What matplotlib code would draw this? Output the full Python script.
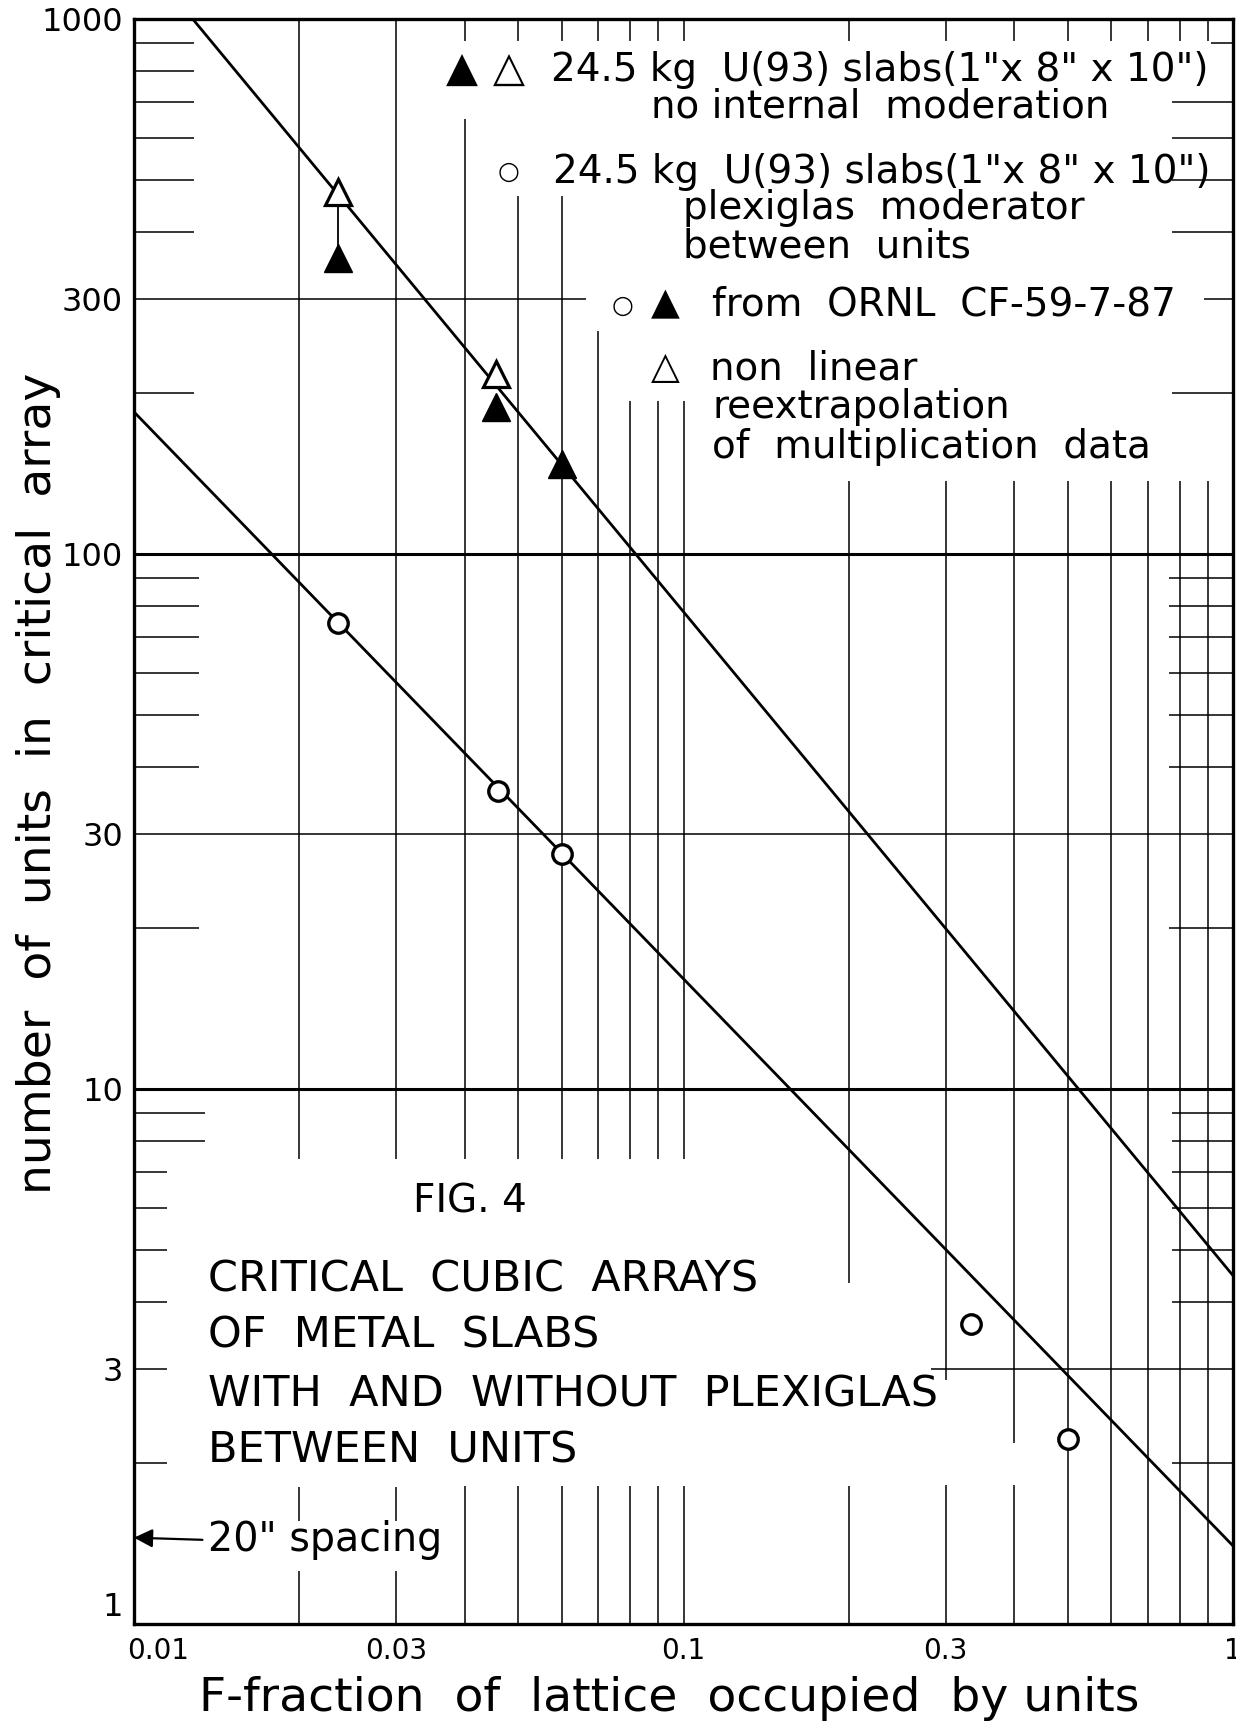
import matplotlib.pyplot as plt
import matplotlib.transforms as mtransforms

# ORNL points, plexiglas moderator between units (open circles)
plexi_F = [0.0235, 0.046, 0.060, 0.333, 0.50]
plexi_N = [74.3, 36.1, 27.5, 3.64, 2.22]

# ORNL points, no internal moderation (filled triangles)
bare_F = [0.0235, 0.0455, 0.060]
bare_N = [357, 188, 147.5]

# non linear reextrapolation of multiplication data (open triangles)
reex_F = [0.0235, 0.0455]
reex_N = [475, 217]

# the two drawn lines, end points
bare_line_F = [0.01279, 1.0]
bare_line_N = [1000, 4.48]
plexi_line_F = [0.01, 1.0]
plexi_line_N = [184.3, 1.40]

xticks = [0.01, 0.03, 0.1, 0.3, 1]
xtick_labels = ["0.01", "0.03", "0.1", "0.3", "1"]
yticks = [1, 3, 10, 30, 100, 300, 1000]
ytick_labels = ["1", "3", "10", "30", "100", "300", "1000"]

W, H = 1236, 1735
fig = plt.figure(figsize=(W / 100, H / 100), dpi=100)
L, R, T, B = 134, 1233, 19, 1624
ax = fig.add_axes([L / W, 1 - B / H, (R - L) / W, (B - T) / H])
ax.set_xscale("log")
ax.set_yscale("log")
ax.set_xlim(0.01, 1)
ax.set_ylim(1, 1000)

# --- hand drawn graph paper: grid lines with gaps where the lettering sits
thin = 1.1
top_tick = (909, 1000)
vgrid = {
    0.02: [(7.41, 1000), (1.56, 1.80), (1, 1.257)],
    0.03: [(7.41, 1000), (1.56, 1.80), (1, 1.257)],
    0.04: [top_tick, (7.41, 650), (1, 1.81)],
    0.05: [top_tick, (7.41, 467), (1, 1.81)],
    0.06: [top_tick, (7.41, 467), (1, 1.81)],
    0.07: [top_tick, (7.41, 261), (1, 1.81)],
    0.08: [top_tick, (7.41, 193), (1, 1.81)],
    0.09: [top_tick, (7.41, 193), (1, 1.81)],
    0.1: [top_tick, (7.41, 193), (1, 1.81)],
    0.2: [top_tick, (4.33, 137), (1, 1.81)],
    0.3: [top_tick, (2.86, 137), (1, 1.82)],
    0.4: [top_tick, (2.18, 137), (1, 1.82)],
}
for x in [0.5, 0.6, 0.7, 0.8, 0.9]:
    vgrid[x] = [top_tick, (1, 137)]
for x, spans in vgrid.items():
    for y0, y1 in spans:
        ax.vlines(x, y0, y1, color="black", lw=thin, zorder=1)

ax.axhline(100, color="black", lw=2.2, zorder=1)
ax.axhline(10, color="black", lw=2.2, zorder=1)
ax.axhline(30, color="black", lw=thin, zorder=1)
ax.hlines(300, 0.01, 0.0665, color="black", lw=thin, zorder=1)
ax.hlines(300, 0.886, 1, color="black", lw=thin, zorder=1)
ax.hlines(3, 0.2825, 1, color="black", lw=thin, zorder=1)

# short scale marks along both edges
left_marks = {0.01284: [900, 800, 700, 600, 500, 400, 200],
              0.01314: [90, 80, 70, 60, 50, 40, 20],
              0.01345: [9, 8],
              0.0115: [7, 6, 5, 4, 3, 2]}
for x1, ys in left_marks.items():
    ax.hlines(ys, 0.01, x1, color="black", lw=thin, zorder=1)
right_marks = {0.912: [900],
               0.775: [700, 600, 500, 400, 200, 9, 8, 7, 6, 5, 4, 2],
               0.764: [90, 80, 70, 60, 50, 40, 20]}
for x0, ys in right_marks.items():
    ax.hlines(ys, x0, 1, color="black", lw=thin, zorder=1)

# --- lines and points
ax.plot(bare_line_F, bare_line_N, color="black", lw=2.0, zorder=2)
ax.plot(plexi_line_F, plexi_line_N, color="black", lw=2.0, zorder=2)
ax.plot([reex_F[0], bare_F[0]], [reex_N[0], bare_N[0]], color="black", lw=1.3, zorder=2)

ax.plot(plexi_F, plexi_N, "o", ms=14, mfc="white", mec="black", mew=2.4, zorder=4)
ax.plot(bare_F, bare_N, "^", ms=20, mfc="black", mec="black", mew=1, zorder=4)
ax.plot(reex_F, reex_N, "^", ms=19, mfc="white", mec="black", mew=2.3, zorder=4)

# --- axes, ticks, labels
for s in ax.spines.values():
    s.set_linewidth(2.4)
    s.set_zorder(5)
ax.set_xticks(xticks, xtick_labels, fontsize=20)
ax.set_yticks(yticks, ytick_labels, fontsize=23)
ax.minorticks_off()
ax.tick_params(axis="x", length=0, pad=9)
ax.tick_params(axis="y", length=0, pad=8)

# corner labels: "1" sits a little above the axis, "0.01" starts at the axis
lab_y1 = ax.get_yticklabels()[0]
lab_y1.set_transform(lab_y1.get_transform()
                     + mtransforms.ScaledTranslation(0, 0.2, fig.dpi_scale_trans))
lab_x1 = ax.get_xticklabels()[0]
lab_x1.set_ha("left")
lab_x1.set_transform(lab_x1.get_transform()
                     + mtransforms.ScaledTranslation(-0.07, 0, fig.dpi_scale_trans))

ax.set_xlabel("F-fraction  of  lattice  occupied  by units", fontsize=34)
ax.xaxis.set_label_coords((669 - L) / (R - L), (B - 1698) / (B - T))
ax.xaxis.label.set_va("center")
ax.set_ylabel("number  of  units  in  critical  array", fontsize=34)
ax.yaxis.set_label_coords((39 - L) / (R - L), (B - 783) / (B - T))
ax.yaxis.label.set_va("center")


def put(x, y, s, size, ha="left"):
    fig.text(x / W, 1 - y / H, s, fontsize=size, ha=ha, va="center")


# legend lettering, top right
leg = 28
put(462, 70, "\u25B2", 30, ha="center")
put(509, 70, "\u25B3", 30, ha="center")
put(551, 70, "24.5 kg  U(93) slabs(1\"x 8\" x 10\")", leg)
put(651, 106, "no internal  moderation", leg)
put(509, 172, "\u25CB", 18, ha="center")
put(553, 172, "24.5 kg  U(93) slabs(1\"x 8\" x 10\")", leg)
put(683, 208, "plexiglas  moderator", leg)
put(683, 246, "between  units", leg)
put(623, 306, "\u25CB", 18, ha="center")
put(665, 304, "\u25B2", 27, ha="center")
put(712, 305, "from  ORNL  CF-59-7-87", leg)
put(665, 368, "\u25B3", 27, ha="center")
put(710, 368, "non  linear", leg)
put(712, 407, "reextrapolation", leg)
put(712, 447, "of  multiplication  data", leg)

# figure title, bottom left
put(413, 1201, "FIG. 4", 28)
put(208, 1280, "CRITICAL  CUBIC  ARRAYS", 31)
put(208, 1336, "OF  METAL  SLABS", 31)
put(208, 1394, "WITH  AND  WITHOUT  PLEXIGLAS", 31)
put(208, 1450, "BETWEEN  UNITS", 31)

ax.annotate("20\" spacing", xy=(0.01, 1.45), xycoords="data",
            xytext=(208, H - 1540), textcoords="figure pixels",
            fontsize=28.5, ha="left", va="center",
            arrowprops=dict(arrowstyle="-|>", color="black", lw=1.6,
                            mutation_scale=28, shrinkA=2, shrinkB=0,
                            relpos=(0, 0.5)))

fig.savefig("out.png", dpi=100)
